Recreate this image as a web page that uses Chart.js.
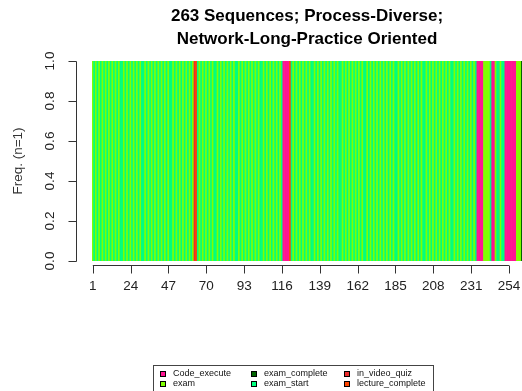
<!DOCTYPE html>
<html>
<head>
<meta charset="utf-8">
<script src="https://cdn.jsdelivr.net/npm/chart.js@4.4.1/dist/chart.umd.min.js"></script>
<style>
  html, body { margin: 0; padding: 0; background: #fff; overflow: hidden; }
  #wrap { width: 522px; height: 391px; overflow: hidden; }
  canvas { display: block; }
</style>
</head>
<body>
<div id="wrap"><canvas id="seqChart" width="530" height="391"></canvas></div>
<script>
// state alphabet (legend order) and colours
const stateCodes  = ['X', 'E', 'C', 'S', 'Q', 'L'];
const stateLabels = ['Code_execute', 'exam', 'exam_complete', 'exam_start', 'in_video_quiz', 'lecture_complete'];
const stateColors = ['#FF1493', '#7FFF00', '#006400', '#00FF7F', '#EE2C2C', '#FF4500'];

// the single sequence, ten positions per row
const seqRows = [
  'ESESESESES', 'ESESESESSE', 'SESESESESE', 'SSESESESES', 'ESESESESSE',
  'SESESESESE', 'SEQLSESESE', 'SESESSESES', 'ESESESESSE', 'SESESESESE',
  'SESSESESES', 'ESESESXXXX', 'LSESESESES', 'ESESSESESE', 'SESESESESE',
  'SSESESESES', 'ESESESSESE', 'SESESESESE', 'SESESSESES', 'ESESESESES',
  'ESSESESESE', 'SESESESESS', 'ESESESESES', 'ESESXXXXEE', 'EESXXESSES',
  'SXXXXXXXEE', 'ECC'
];
const sequence = seqRows.join('').split('');

const xTicks = [1, 24, 47, 70, 93, 116, 139, 162, 185, 208, 231, 254];
const yTicks = [0, 0.2, 0.4, 0.6, 0.8, 1.0];
const titleLines = ['263 Sequences; Process-Diverse;', 'Network-Long-Practice Oriented'];
const yTitle = 'Freq. (n=1)';

const FONT = '"Liberation Sans", Arial, sans-serif';

const barData = sequence.map((s, i) => ({ x: i + 1, y: 1 }));
const barColors = sequence.map(s => stateColors[stateCodes.indexOf(s)]);

// base-graphics style axes, title and legend drawn on top of the bars
const rDecor = {
  id: 'rDecor',
  afterDraw(chart) {
    const { ctx, scales: { x, y } } = chart;
    ctx.save();

    ctx.fillStyle = '#000';
    ctx.font = 'bold 17px ' + FONT;
    ctx.textAlign = 'center';
    ctx.textBaseline = 'middle';
    titleLines.forEach((t, i) => ctx.fillText(t, 307, 16 + i * 23));

    // y axis
    ctx.strokeStyle = '#333';
    ctx.lineWidth = 1;
    const ax = 76.5;
    ctx.beginPath();
    ctx.moveTo(ax, Math.round(y.getPixelForValue(0)) + 0.5);
    ctx.lineTo(ax, Math.round(y.getPixelForValue(1)) + 0.5);
    yTicks.forEach(v => {
      const py = Math.round(y.getPixelForValue(v)) + 0.5;
      ctx.moveTo(ax, py);
      ctx.lineTo(ax - 8, py);
    });
    ctx.stroke();

    ctx.font = '13.5px ' + FONT;
    ctx.fillStyle = '#222';
    yTicks.forEach(v => {
      ctx.save();
      ctx.translate(50, y.getPixelForValue(v));
      ctx.rotate(-Math.PI / 2);
      ctx.fillText(v.toFixed(1), 0, 0);
      ctx.restore();
    });
    ctx.save();
    ctx.translate(18, 161);
    ctx.rotate(-Math.PI / 2);
    ctx.fillStyle = '#333';
    ctx.fillText(yTitle, 0, 0);
    ctx.restore();

    // x axis
    const ay = 265.5;
    ctx.beginPath();
    ctx.moveTo(x.getPixelForValue(xTicks[0]), ay);
    ctx.lineTo(x.getPixelForValue(xTicks[xTicks.length - 1]), ay);
    xTicks.forEach(v => {
      const px = Math.round(x.getPixelForValue(v)) + 0.5;
      ctx.moveTo(px, ay);
      ctx.lineTo(px, ay + 8);
    });
    ctx.stroke();
    ctx.fillStyle = '#222';
    xTicks.forEach(v => ctx.fillText(String(v), x.getPixelForValue(v), 286));

    // legend box, filled column by column
    ctx.strokeStyle = '#444';
    ctx.strokeRect(153.5, 365.5, 280, 40);
    ctx.font = '9px ' + FONT;
    ctx.textAlign = 'left';
    const colX = [160, 251, 344];
    stateLabels.forEach((lab, i) => {
      const cx = colX[Math.floor(i / 2)];
      const cy = 374 + (i % 2) * 10;
      ctx.fillStyle = stateColors[i];
      ctx.fillRect(cx, cy - 3, 6, 6);
      ctx.strokeStyle = '#000';
      ctx.strokeRect(cx + 0.5, cy - 2.5, 5, 5);
      ctx.fillStyle = '#111';
      ctx.fillText(lab, cx + 13, cy);
    });

    ctx.restore();
  }
};

new Chart(document.getElementById('seqChart').getContext('2d'), {
  type: 'bar',
  data: {
    datasets: [{
      data: barData,
      backgroundColor: barColors,
      borderWidth: 0,
      barPercentage: 1,
      categoryPercentage: 1
    }]
  },
  options: {
    responsive: false,
    animation: false,
    layout: { padding: { left: 92, top: 61, right: 5.4, bottom: 130 } },
    scales: {
      x: { type: 'linear', min: 0.5, max: 263.5, offset: false, display: false },
      y: { min: 0, max: 1, display: false }
    },
    plugins: {
      legend: { display: false },
      tooltip: { enabled: false },
      title: { display: false }
    }
  },
  plugins: [rDecor]
});
</script>
</body>
</html>
